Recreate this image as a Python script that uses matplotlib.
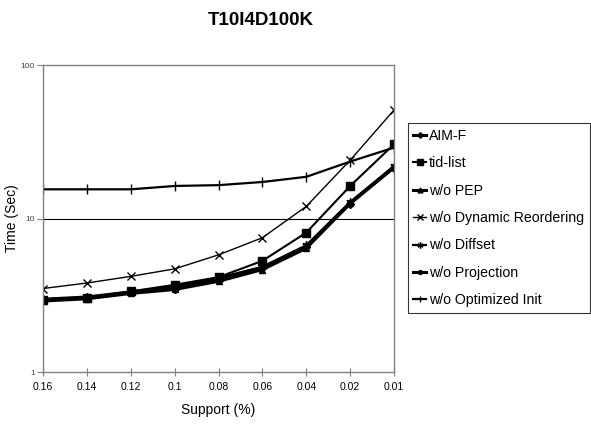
import matplotlib
matplotlib.use("Agg")
from matplotlib import pyplot as plt
import numpy as np

plt.rcParams['font.family'] = ['Liberation Sans', 'DejaVu Sans']

support = ["0.16", "0.14", "0.12", "0.1", "0.08", "0.06", "0.04", "0.02", "0.01"]

aim_f = [2.95, 3.03, 3.3, 3.5, 4.0, 4.75, 6.5, 12.5, 21.5]
tid_list = [2.95, 3.05, 3.35, 3.7, 4.15, 5.3, 8.1, 16.3, 30.5]
wo_pep = [2.9, 3.0, 3.25, 3.45, 3.9, 4.65, 6.4, 12.6, 21.8]
wo_dyn_reorder = [3.5, 3.8, 4.2, 4.7, 5.8, 7.5, 12.0, 24.0, 51.0]
wo_diffset = [3.0, 3.1, 3.35, 3.6, 4.1, 4.85, 6.7, 12.8, 22.0]
wo_projection = [2.95, 3.05, 3.3, 3.55, 4.05, 4.8, 6.6, 12.7, 21.5]
wo_opt_init = [15.5, 15.5, 15.5, 16.3, 16.5, 17.3, 18.7, 23.5, 29.0]

series = [
    ("AIM-F", aim_f, 'D', 2.2, 4),
    ("tid-list", tid_list, 's', 1.5, 6),
    ("w/o PEP", wo_pep, '^', 2.2, 5),
    ("w/o Dynamic Reordering", wo_dyn_reorder, 'x', 1.0, 6),
    ("w/o Diffset", wo_diffset, (6, 2, 0), 1.6, 6),
    ("w/o Projection", wo_projection, 'o', 2.2, 4),
    ("w/o Optimized Init", wo_opt_init, '|', 1.6, 7),
]

fig = plt.figure(figsize=(5.91, 4.24), dpi=100)
ax = fig.add_axes([0.0728, 0.1226, 0.594, 0.724])
x = np.arange(len(support))

for label, vals, mk, lw, ms in series:
    ax.plot(x, vals, color='black', marker=mk, lw=lw, ms=ms, mew=1.0, label=label)

ax.set_yscale('log')
ax.set_ylim(1, 100)
ax.set_xlim(0, len(support) - 1)
ax.set_xticks(x)
ax.set_xticklabels(support)
ax.set_yticks([1, 10, 100])
ax.set_yticklabels(["1", "10", "100"])
ax.yaxis.set_minor_locator(matplotlib.ticker.NullLocator())
ax.axhline(10, color='black', lw=0.8, zorder=0)

for s in ax.spines.values():
    s.set_color('#808080')
    s.set_linewidth(1.0)
ax.tick_params(axis='x', direction='inout', length=6, color='#808080', labelsize=7.5, pad=4)
ax.tick_params(axis='y', direction='out', length=4, color='#808080', labelsize=6, labelcolor='#404040', pad=2)

ax.set_xlabel("Support (%)", fontsize=10, labelpad=8)
ax.set_ylabel("Time (Sec)", fontsize=10)
ax.yaxis.set_label_coords(-0.068, 0.5)
fig.text(0.442, 0.952, "T10I4D100K", ha='center', va='center', fontsize=13.5, fontweight='bold')

leg = fig.legend(loc='upper left', bbox_to_anchor=(0.69, 0.71), bbox_transform=fig.transFigure,
                 frameon=True, fancybox=False, fontsize=10.2, handlelength=0.9, markerscale=0.7,
                 handletextpad=0.2, labelspacing=0.95, borderpad=0.4, borderaxespad=0)
leg.get_frame().set_edgecolor('black')
leg.get_frame().set_linewidth(0.8)

fig.savefig("out.png", dpi=100)
